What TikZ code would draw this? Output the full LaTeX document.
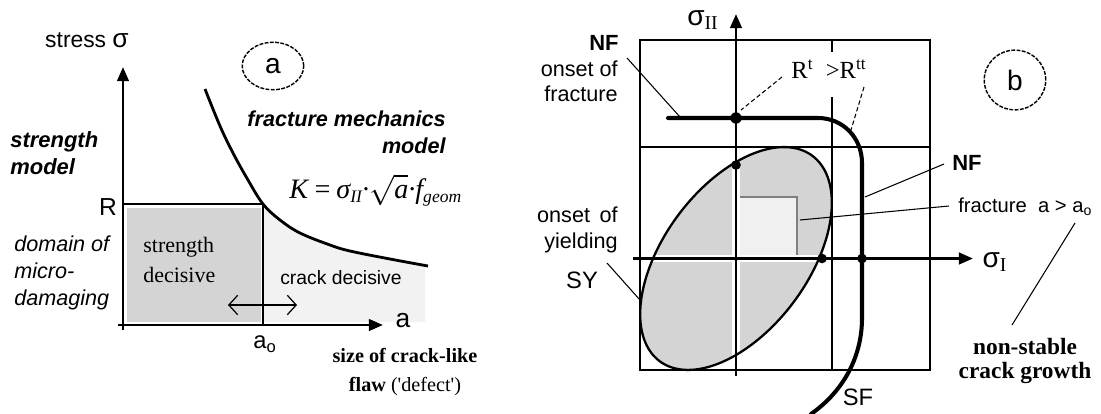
\documentclass[tikz,border=0pt]{standalone}
\usepackage{fontspec}
\setmainfont{Liberation Sans}
\newfontfamily\serif{Liberation Serif}
\usetikzlibrary{arrows.meta,shapes.geometric}
\newcommand{\fs}[2]{\fontsize{#1}{#2}\selectfont}
\newcommand{\lowsub}[1]{\raisebox{-0.3ex}{\fs{10}{10}#1}}
\begin{document}
\begin{tikzpicture}[x=0.02cm,y=-0.02cm,
  ax/.style={line width=1.5pt,-{Triangle[length=8pt,width=6.5pt]}},
  thinl/.style={line width=0.8pt},
  lead/.style={line width=0.6pt},
  dlead/.style={line width=0.6pt,dash pattern=on 2.5pt off 1.5pt},
  dot/.style={circle,fill=black,inner sep=0pt,minimum size=5.5pt},
  circlab/.style={draw,ellipse,dash pattern=on 2.2pt off 0.8pt,line width=0.8pt,inner sep=0pt,font=\fs{16}{16}},
  txt/.style={inner sep=0pt,font=\fs{12}{14}},
  thickc/.style={line width=2.3pt,line cap=round}
]
\useasboundingbox (0,0) rectangle (1101,413);

% ================= panel a =================
\coordinate (O) at (123,325);
\coordinate (Ytip) at (123,67);
\coordinate (Xtip) at (383,325);
\coordinate (Rl) at (123,204);
\coordinate (Rr) at (263,204);
\coordinate (A0) at (263,325);

\fill[black!5] (263,322) -- plot[smooth,tension=0.6] coordinates {(263,204) (280,220) (300,233) (330,245) (350,251) (390,259) (425,266)} -- (425,322) -- cycle;
\fill[black!17] (127,208) rectangle (261,322);

\draw[ax] (123,330) -- (Ytip);
\draw[ax] (118,325) -- (Xtip);
\draw[line width=1.1pt] (Rl) -- (Rr) -- (A0);
\draw[line width=1.6pt] plot[smooth,tension=0.6] coordinates {(205,89) (220,126) (233,153) (248,180) (263,204) (280,220) (300,233) (330,245) (350,251) (390,259) (428,266)};

\coordinate (dl) at (228,305);
\coordinate (dr) at (297,305);
\draw[line width=0.7pt,{Straight Barb[length=5pt,width=11pt]}-{Straight Barb[length=5pt,width=11pt]}] (dl) -- (dr);

\node[txt,font=\fs{13}{15}] (stress) at (87,40) {stress {\fs{15}{15}σ}};
\node[circlab,minimum width=35pt,minimum height=27pt] (ca) at (273,66) {a};
\node[txt,anchor=west,align=left,font=\fs{12.5}{15}\bfseries\itshape] (sm) at (10,153) {strength\\model};
\node[txt,font=\fs{14}{14}] (R) at (108,207) {R};
\node[txt,anchor=west,align=left,font=\fs{12.3}{15.5}\itshape] (dom) at (14,273) {domain of\\micro-\\damaging};
\node[txt,anchor=west,align=left,font=\serif\fs{12.5}{17}] (sd) at (143,260) {strength\\decisive};
\node[txt,font=\fs{11}{13}] (cd) at (341,278) {crack decisive};
\node[txt,font=\fs{13.5}{14}] (a0) at (265,344) {a\textsubscript{o}};
\node[txt,font=\fs{15}{15}] (alab) at (403,321) {a};
\node[txt,align=center,font=\serif\fs{11.5}{16.5}\bfseries] (size) at (405,372) {size of crack-like\\flaw {\mdseries ('defect')}};
\node[txt,anchor=east,align=right,font=\fs{12.3}{15.5}\bfseries\itshape] (fm) at (446,132) {fracture mechanics\\model};
\node[txt,anchor=west,font=\serif\itshape\fs{16}{16}] (form) at (289,190) {K\,=\,σ\lowsub{II}·$\sqrt{\mbox{\serif\itshape a}}$·f\lowsub{geom}};

% ================= panel b =================
\coordinate (C) at (736,258.5);
\fill[black!17] plot[domain=0:360,samples=140,variable=\t] ({736+83*(cos(\t)-0.57735*sin(\t))},{258.5-96.5*(cos(\t)+0.57735*sin(\t))}) -- cycle;
\fill[black!6] (738,197) rectangle (797,256);
\draw[black!50,line width=1.2pt] (738,197) -- (797,197) -- (797,256);
\draw[white,line width=4pt] (736,375) -- (736,25);
\draw[white,line width=4pt] (633,258.5) -- (960,258.5);
\draw[thinl] (640,40) rectangle (930,370);
\draw[thinl] (640,147) -- (930,147);
\draw[thinl] (832,40) -- (832,52);
\draw[thinl] (832,97) -- (832,370);
\draw[line width=1.3pt] plot[domain=0:360,samples=140,variable=\t] ({736+83*(cos(\t)-0.57735*sin(\t))},{258.5-96.5*(cos(\t)+0.57735*sin(\t))}) -- cycle;
\coordinate (s2tip) at (736,14);
\coordinate (s1tip) at (973,258.5);
\draw[ax,line width=1.6pt] (736,376) -- (s2tip);
\draw[ax,line width=1.6pt] (633,258.5) -- (s1tip);
\coordinate (nfs) at (668,118);
\draw[thickc] (nfs) -- (818,118) .. controls (843,118) and (862,138) .. (862,163) -- (862,318) .. controls (862,355) and (845,390) .. (811,414);
\node[dot,minimum size=6.5pt] (d1) at (736,118) {};
\node[dot] (d2) at (736,165) {};
\node[dot] (d3) at (822,258.5) {};
\node[dot] (d4) at (862,258.5) {};

\node[txt,font=\fs{16}{16}] (s2) at (703,20) {σ\textsubscript{\serif II}};
\node[txt,font=\fs{16}{16}] (s1) at (995,262) {σ\textsubscript{\serif I}};
\node[txt,anchor=east,font=\fs{12.5}{14}\bfseries] (nf1) at (619,43) {NF};
\node[txt,anchor=east,align=right,font=\fs{12.3}{14}] (of) at (618,81) {onset of\\fracture};
\node[txt,anchor=east,align=right,font=\fs{12.3}{14.7}] (oy) at (618,230) {onset \,of\\yielding};
\node[txt,font=\fs{13.5}{14}] (sy) at (582,280) {SY};
\node[txt,font=\serif\fs{14}{14}] (rr) at (829,69) {R\textsuperscript{t}\ \ >R\textsuperscript{tt}};
\node[txt,font=\fs{12.5}{14}\bfseries] (nf2) at (967,163) {NF};
\node[txt,anchor=west,font=\fs{11.5}{14}] (fr) at (958,207) {fracture \ a > a\textsubscript{o}};
\node[circlab,minimum width=35pt,minimum height=34pt] (cb) at (1015,80) {b};
\node[txt,font=\fs{13.5}{14}] (sf) at (858,397) {SF};
\node[txt,align=center,font=\serif\fs{13.3}{13.3}\bfseries] (ns) at (1025,361) {non-stable\\crack growth};

\coordinate (l1a) at (627,58); \coordinate (l1b) at (680,117);
\draw[lead] (l1a) -- (l1b);
\coordinate (l2a) at (782,77); \coordinate (l2b) at (741,110);
\draw[dlead] (l2a) -- (l2b);
\coordinate (l3a) at (864,87); \coordinate (l3b) at (851,130);
\draw[dlead] (l3a) -- (l3b);
\coordinate (l4a) at (944,164); \coordinate (l4b) at (865,197);
\draw[lead] (l4a) -- (l4b);
\coordinate (l5a) at (949,206); \coordinate (l5b) at (800,220);
\draw[lead] (l5a) -- (l5b);
\coordinate (l6a) at (607,263); \coordinate (l6b) at (640,300);
\draw[lead] (l6a) -- (l6b);
\coordinate (l7a) at (1075,223); \coordinate (l7b) at (1012,325);
\draw[lead] (l7a) -- (l7b);
\end{tikzpicture}
\end{document}
